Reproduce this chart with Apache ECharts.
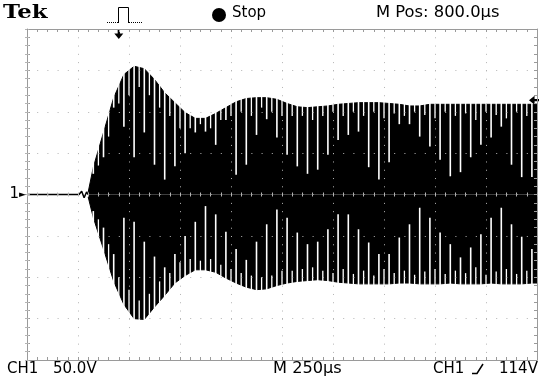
<!DOCTYPE html>
<html>
<head>
<meta charset="utf-8">
<script src="https://cdn.jsdelivr.net/npm/echarts@6/dist/echarts.min.js"></script>
<style>
html,body{margin:0;padding:0;background:#fff}
#main{width:540px;height:381px}
</style>
</head>
<body>
<div id="main"></div>
<script>
// scope capture, 250 us/div, 50 V/div
// envelope of the burst, read every 50 us (V)
var envTimes = [300,325,375,425,475,525,575,625,675,725,775,825,875,925,975,1025,1075,1125,1175,1225,1275,1325,1375,
  1425,1475,1525,1575,1625,1675,1725,1775,1825,1875,1925,1975,2025,2075,2125,2175,2225,2275,2325,2375,2425,2475,2500];
var upper = [3,33,75,117,145,155,152,139,123,111,99,92,92,98,105,112,116,117,117,115,110,106,105,
  106,107,109,110,111,111,111,110,109,107,107,109,109,109,109,109,109,109,109,109,109,109,109];
var lower = [-3,-28,-66,-105,-133,-150,-151,-136,-122,-107,-98,-91,-91,-94,-101,-107,-112,-115,-114,-110,-107,-105,-104,
  -103,-104,-106,-107,-108,-108,-108,-108,-107,-107,-108,-108,-108,-107,-108,-108,-108,-107,-108,-108,-108,-107,-107];
// long white gaps, one per 50 us column: level where the gap from the top / bottom stops (V)
var slitTimes = [325,375,425,475,525,575,625,675,725,775,825,875,925,975,1025,1075,1125,1175,1225,1275,1325,1375,
  1425,1475,1525,1575,1625,1675,1725,1775,1825,1875,1925,1975,2025,2075,2125,2175,2225,2275,2325,2375,2425,2475];
var slitTop = [25,45,105,82,45,75,36,18,34,50,75,76,60,90,24,36,72,91,69,48,34,25,
  30,48,66,72,76,33,18,39,85,85,70,58,42,22,27,45,60,69,82,36,21,21];
var slitBottom = [-20,-40,-72,-28,-33,-57,-75,-88,-72,-50,-33,-14,-24,-45,-66,-79,-57,-36,-18,-28,-46,-60,
  -57,-42,-24,-24,-42,-58,-72,-72,-52,-36,-16,-28,-46,-60,-76,-64,-48,-28,-16,-36,-51,-66];
// short notches between the columns (V)
var notchTimes = [350,400,450,500,550,600,650,700,750,800,850,900,950,1000,1050,1100,1150,1200,1250,1300,1350,1400,
  1450,1500,1550,1600,1650,1700,1750,1800,1850,1900,1950,2000,2050,2100,2150,2200,2250,2300,2350,2400,2450];
var notchTop = [35,70,110,120,130,120,105,95,80,80,85,80,90,95,100,95,105,100,95,95,95,90,
  95,100,95,100,95,100,92,98,95,100,96,92,100,95,98,90,100,96,92,100,95];
var notchBottom = [-30,-60,-100,-115,-128,-120,-105,-95,-82,-78,-80,-78,-85,-90,-95,-98,-100,-98,-92,-92,-90,-88,
  -92,-95,-90,-96,-92,-98,-90,-95,-92,-97,-93,-90,-96,-92,-95,-88,-97,-93,-90,-96,-92];
// flat trace before the burst
var baseTimes = [0,255,268,280,292,300];
var baseValues = [0,0,4,-4,3,0];

var trigTime = 450;   // M Pos 800us left of centre
var trigLevel = 114;

var dom = document.getElementById('main');
var myChart = echarts.init(dom);

var upperData = envTimes.map(function (t, i) { return [t, upper[i]]; });
var lowerData = envTimes.map(function (t, i) { return [t, lower[i]]; });
var slits = slitTimes.map(function (t, i) { return [t, slitTop[i], slitBottom[i]]; });
var notches = notchTimes.map(function (t, i) { return [t, notchTop[i], notchBottom[i]]; });
var base = baseTimes.map(function (t, i) { return [t, baseValues[i]]; });

function gapRenderer(w) {
  return function (params, api) {
    var t = api.value(0);
    var top = api.coord([t, 200]);
    var c = api.coord([t, api.value(1)]);
    var d = api.coord([t, api.value(2)]);
    var bot = api.coord([t, -200]);
    return {
      type: 'group',
      children: [
        {type: 'rect', shape: {x: c[0] - w / 2, y: top[1], width: w, height: c[1] - top[1]}, style: {fill: '#fff'}},
        {type: 'rect', shape: {x: d[0] - w / 2, y: d[1], width: w, height: bot[1] - d[1]}, style: {fill: '#fff'}}
      ]
    };
  };
}

var gridCol = '#9a9a9a';
var dotCol = '#b4b4b4';

function xAx(pos, opts) {
  var o = {
    type: 'value', min: 0, max: 2500, interval: 250, position: pos, z: 5,
    axisLine: {show: true, onZero: false, lineStyle: {color: gridCol, width: 1}},
    axisTick: {show: true, inside: true, length: 3, lineStyle: {color: gridCol}},
    minorTick: {show: true, splitNumber: 5, length: 3, lineStyle: {color: gridCol}},
    axisLabel: {show: false},
    splitLine: {show: false}
  };
  return Object.assign(o, opts || {});
}
function yAx(pos, opts) {
  var o = {
    type: 'value', min: -200, max: 200, interval: 50, position: pos, z: 5,
    axisLine: {show: true, onZero: false, lineStyle: {color: gridCol, width: 1}},
    axisTick: {show: true, inside: true, length: 3, lineStyle: {color: gridCol}},
    minorTick: {show: true, splitNumber: 5, length: 3, lineStyle: {color: gridCol}},
    axisLabel: {show: false},
    splitLine: {show: false}
  };
  return Object.assign(o, opts || {});
}
var centreTicks = {
  axisLine: {show: false, onZero: true, onZeroAxisIndex: 0},
  axisTick: {show: true, inside: true, length: 2, lineStyle: {color: dotCol}},
  minorTick: {show: true, splitNumber: 5, length: 2, lineStyle: {color: dotCol}}
};

var option = {
  animation: false,
  backgroundColor: '#fff',
  grid: {left: 27, right: 3, top: 29, bottom: 21, containLabel: false},
  xAxis: [
    xAx('bottom', {splitLine: {show: true, lineStyle: {color: dotCol, width: 1, type: [1, 7.28]}}}),
    xAx('top'),
    xAx('bottom', centreTicks),
    xAx('top', centreTicks)
  ],
  yAxis: [
    yAx('left', {
      splitLine: {show: true, lineStyle: {color: dotCol, width: 1, type: [1, 9.2]}},
      axisLabel: {
        show: true, margin: 1,
        formatter: function (v) { return v === 0 ? '{n|1}{a|►}' : ''; },
        rich: {
          n: {fontFamily: 'DejaVu Sans', fontSize: 15, color: '#000'},
          a: {fontFamily: 'DejaVu Sans', fontSize: 9, color: '#000'}
        }
      }
    }),
    yAx('right'),
    yAx('left', centreTicks),
    yAx('right', centreTicks)
  ],
  series: [
    {
      name: 'upper',
      type: 'line',
      data: upperData,
      symbol: 'none',
      lineStyle: {color: '#000', width: 1},
      areaStyle: {color: '#000', opacity: 1},
      z: 2
    },
    {
      name: 'lower',
      type: 'line',
      data: lowerData,
      symbol: 'none',
      lineStyle: {color: '#000', width: 1},
      areaStyle: {color: '#000', opacity: 1},
      z: 2
    },
    {
      name: 'gaps',
      type: 'custom',
      renderItem: gapRenderer(1.6),
      encode: {x: 0, y: [1, 2]},
      data: slits,
      z: 3
    },
    {
      name: 'notches',
      type: 'custom',
      renderItem: gapRenderer(1.3),
      encode: {x: 0, y: [1, 2]},
      data: notches,
      z: 3
    },
    {
      name: 'pre-trigger',
      type: 'line',
      data: base,
      symbol: 'none',
      lineStyle: {color: '#000', width: 1.5},
      z: 4,
      markPoint: {
        silent: true,
        label: {show: false},
        data: [
          {coord: [trigTime, 200], symbol: 'path://M3,0H5V4H8L4,9L0,4H3Z', symbolSize: [9, 10], symbolOffset: [0, 5], itemStyle: {color: '#000'}},
          {coord: [2500, trigLevel], symbol: 'path://M0,4L5,0V3H9V5H5V8Z', symbolSize: [10, 9], symbolOffset: [-3, 0], itemStyle: {color: '#000'}}
        ]
      }
    }
  ],
  graphic: [
    {type: 'text', x: 3, y: 4, scaleX: 1.2, style: {text: 'Tek', font: 'bold 19px "DejaVu Serif"', fill: '#000'}},
    {type: 'line', shape: {x1: 107, y1: 22.5, x2: 118, y2: 22.5}, style: {stroke: '#000', lineWidth: 1, lineDash: [1, 1]}},
    {type: 'polyline', shape: {points: [[118.5, 23], [118.5, 7.5], [128.5, 7.5], [128.5, 23]]}, style: {stroke: '#000', lineWidth: 1, fill: null}},
    {type: 'line', shape: {x1: 129, y1: 22.5, x2: 142, y2: 22.5}, style: {stroke: '#000', lineWidth: 1, lineDash: [1, 1]}},
    {type: 'circle', shape: {cx: 219, cy: 15, r: 7}, style: {fill: '#000'}},
    {type: 'text', x: 232, y: 6, style: {text: 'Stop', font: '15px "DejaVu Sans"', fill: '#000'}},
    {type: 'text', x: 376, y: 6, scaleX: 1.09, style: {text: 'M Pos: 800.0µs', font: '15px "DejaVu Sans"', fill: '#000'}},
    {type: 'text', x: 7, y: 362, style: {text: 'CH1', font: '15px "DejaVu Sans"', fill: '#000'}},
    {type: 'text', x: 53, y: 362, style: {text: '50.0V', font: '15px "DejaVu Sans"', fill: '#000'}},
    {type: 'text', x: 273, y: 362, scaleX: 1.08, style: {text: 'M 250µs', font: '15px "DejaVu Sans"', fill: '#000'}},
    {type: 'text', x: 433, y: 362, style: {text: 'CH1', font: '15px "DejaVu Sans"', fill: '#000'}},
    {type: 'polyline', shape: {points: [[472, 373.5], [477, 373.5], [483, 364]]}, style: {stroke: '#000', lineWidth: 1.5, fill: null}},
    {type: 'text', x: 499, y: 362, style: {text: '114V', font: '15px "DejaVu Sans"', fill: '#000'}}
  ]
};

myChart.setOption(option);
</script>
</body>
</html>
